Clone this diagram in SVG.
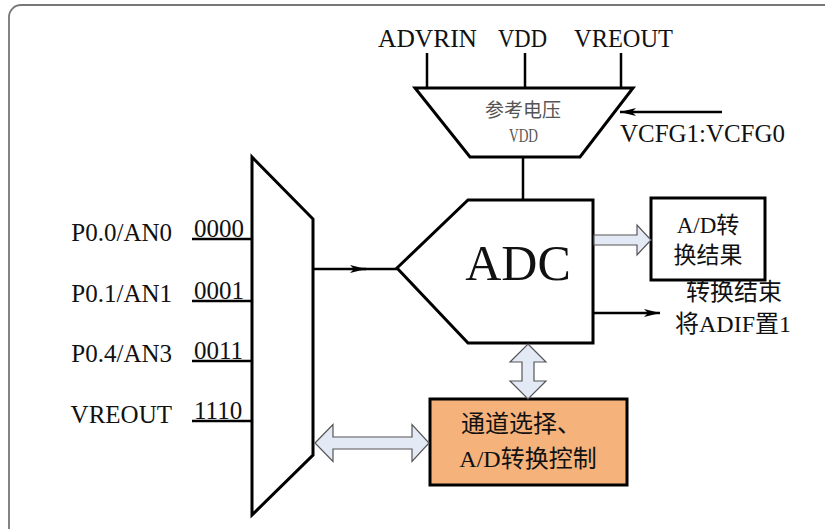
<svg xmlns="http://www.w3.org/2000/svg" width="825" height="529" viewBox="0 0 825 529" font-family="'Liberation Serif','Noto Sans CJK SC',serif">
<defs>
<style>
.t{fill:#111;}
.s{fill:none;stroke:#000;stroke-width:3;stroke-linejoin:miter;}
.ln{stroke:#000;stroke-width:2.5;fill:none;}
.ha{fill:#e4eaf5;stroke:#555;stroke-width:1.2;}
</style>
<marker id="ah" markerWidth="16" markerHeight="8" refX="16" refY="4" orient="auto" markerUnits="userSpaceOnUse">
<path d="M0,0 L16,4 L0,8 L4,4 Z" fill="#000"/>
</marker>
</defs>
<rect width="825" height="529" fill="#fff"/>
<path d="M9,529 V17 A12,12 0 0 1 21,5 H825" fill="none" stroke="#777" stroke-width="1.8"/>

<g id="ref">
<path class="s" d="M415,88 H633 L580,157 H470 Z" fill="#eeedf3"/>
<text class="t" x="523" y="117" font-size="19" text-anchor="middle" style="fill:#555">参考电压</text>
<text class="t" x="509" y="142" font-size="19" textLength="29" lengthAdjust="spacingAndGlyphs" style="fill:#555">VDD</text>
</g>

<g id="toplabels">
<text class="t" x="378" y="47" font-size="25" textLength="99" lengthAdjust="spacingAndGlyphs">ADVRIN</text>
<text class="t" x="498" y="47" font-size="25" textLength="49" lengthAdjust="spacingAndGlyphs">VDD</text>
<text class="t" x="574" y="47" font-size="25" textLength="99" lengthAdjust="spacingAndGlyphs">VREOUT</text>
<text class="t" x="620" y="142" font-size="25" textLength="165" lengthAdjust="spacingAndGlyphs">VCFG1:VCFG0</text>
</g>

<g id="adc">
<path class="s" d="M468,200 H593 V343 H468 L397,268 Z" fill="#fff"/>
<text class="t" x="518" y="280" font-size="50" text-anchor="middle">ADC</text>
</g>

<g id="mux">
<path class="s" d="M252,157 L313,219 V455 L252,515 Z" fill="#fff"/>
</g>

<g id="result">
<rect x="651" y="198" width="114" height="82" fill="#fff" stroke="#000" stroke-width="3"/>
<text class="t" x="708" y="233" font-size="23" text-anchor="middle">A/D转</text>
<text class="t" x="708" y="263" font-size="23" text-anchor="middle">换结果</text>
</g>

<g id="endlabel">
<text class="t" x="734" y="300" font-size="24" text-anchor="middle">转换结束</text>
<text class="t" x="733" y="332" font-size="24" text-anchor="middle">将ADIF置1</text>
</g>

<g id="ctrl">
<rect x="430" y="399" width="197" height="86" fill="#f5b27b" stroke="#000" stroke-width="3"/>
<text class="t" x="521" y="432" font-size="24" text-anchor="middle">通道选择、</text>
<text class="t" x="528" y="467" font-size="24" text-anchor="middle">A/D转换控制</text>
</g>

<g id="inputs">
<text class="t" x="172" y="241" font-size="25" text-anchor="end">P0.0/AN0</text>
<text class="t" x="172" y="302" font-size="25" text-anchor="end">P0.1/AN1</text>
<text class="t" x="172" y="362" font-size="25" text-anchor="end">P0.4/AN3</text>
<text class="t" x="172" y="423" font-size="25" text-anchor="end">VREOUT</text>
<text class="t" x="194" y="237" font-size="25">0000</text>
<text class="t" x="194" y="299" font-size="25">0001</text>
<text class="t" x="194" y="359" font-size="25">0011</text>
<text class="t" x="194" y="419" font-size="25">1110</text>
</g>

<g id="connectors">
<line class="ln" x1="427" y1="53" x2="427" y2="88"/>
<line class="ln" x1="525" y1="53" x2="525" y2="88"/>
<line class="ln" x1="621" y1="53" x2="621" y2="88"/>
<line class="ln" x1="722" y1="112" x2="620" y2="112" marker-end="url(#ah)"/>
<line class="ln" x1="523" y1="157" x2="523" y2="200"/>
<line class="ln" x1="313" y1="269" x2="366" y2="269" marker-end="url(#ah)"/>
<line class="ln" x1="360" y1="269" x2="397" y2="269"/>
<line class="ln" x1="593" y1="313" x2="660" y2="313" marker-end="url(#ah)"/>
<line class="ln" x1="192" y1="239" x2="252" y2="239"/>
<line class="ln" x1="192" y1="301" x2="252" y2="301"/>
<line class="ln" x1="192" y1="361" x2="252" y2="361"/>
<line class="ln" x1="192" y1="421" x2="252" y2="421"/>
<path class="ha" d="M594,235 H637 V225 L651,240 L637,255 V245 H594 Z"/>
<path class="ha" d="M528,344 L546,362 H534 V381 H546 L528,399 L510,381 H522 V362 H510 Z"/>
<path class="ha" d="M315,443 L333,424.5 V437 H412 V424.5 L429,443 L412,461.5 V449 H333 V461.5 Z"/>
</g>
</svg>
